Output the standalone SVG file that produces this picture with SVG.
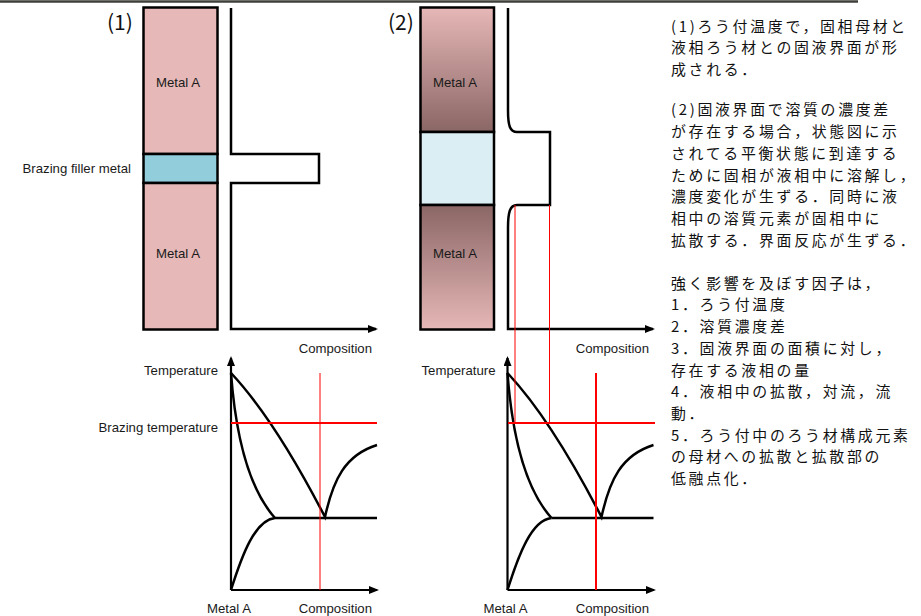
<svg xmlns="http://www.w3.org/2000/svg" width="921" height="616" viewBox="0 0 921 616">
<defs>
<marker id="arr" markerUnits="userSpaceOnUse" markerWidth="10" markerHeight="8" refX="8" refY="4" orient="auto"><path d="M0,0 L10,4 L0,8 z" fill="#000"/></marker>
<linearGradient id="gUp" x1="0" y1="0" x2="0" y2="1"><stop offset="0" stop-color="#e6b8b7"/><stop offset="1" stop-color="#8a6665"/></linearGradient>
<linearGradient id="gDn" x1="0" y1="0" x2="0" y2="1"><stop offset="0" stop-color="#8a6665"/><stop offset="1" stop-color="#e6b8b7"/></linearGradient>
</defs>
<style>
.lbl{font-family:"Liberation Sans",Arial,sans-serif;font-size:13.2px;fill:#1a1a1a}
.num{font-family:"Noto Sans CJK JP",sans-serif;font-size:21px;fill:#111}
.jp{font-family:"Noto Sans CJK JP",sans-serif;font-size:14.9px;letter-spacing:2.7px;fill:#111}
.blk{stroke:#000;stroke-width:2.5}
.ln{fill:none;stroke:#000;stroke-width:2.5}
.ax{fill:none;stroke:#000;stroke-width:2.2}
.crv{fill:none;stroke:#000;stroke-width:2.5}
.red{fill:none;stroke:#ff0000}
</style>
<rect width="921" height="616" fill="#fff"/>
<path d="M0,1.5 H858" stroke="#3f3f3a" stroke-width="2.5"/>

<g id="panel1">
<text class="num" x="107" y="29.5">(1)</text>
<g id="p1-metal-top"><rect x="143.5" y="7.5" width="74" height="146.5" fill="#e6b8b7" class="blk"/><text class="lbl" x="178" y="86.5" text-anchor="middle">Metal A</text></g>
<g id="p1-filler"><rect x="143.5" y="154" width="74" height="29" fill="#92cddc" class="blk"/><text class="lbl" x="131" y="173" text-anchor="end">Brazing filler metal</text></g>
<g id="p1-metal-bottom"><rect x="143.5" y="183" width="74" height="146.5" fill="#e6b8b7" class="blk"/><text class="lbl" x="178" y="258" text-anchor="middle">Metal A</text></g>
<text class="lbl" x="372" y="352.5" text-anchor="end">Composition</text>
</g>

<g id="panel2">
<text class="num" x="388" y="29.5">(2)</text>
<g id="p2-metal-top"><rect x="420.5" y="7.5" width="73.5" height="124.5" fill="url(#gUp)" class="blk"/><text class="lbl" x="455" y="86.5" text-anchor="middle">Metal A</text></g>
<g id="p2-liquid"><rect x="420.5" y="132" width="73.5" height="73" fill="#dbeef4" class="blk"/></g>
<g id="p2-metal-bottom"><rect x="420.5" y="205" width="73.5" height="124.5" fill="url(#gDn)" class="blk"/><text class="lbl" x="455" y="258" text-anchor="middle">Metal A</text></g>
<text class="lbl" x="649" y="352.5" text-anchor="end">Composition</text>
</g>

<g id="phase1">
<text class="lbl" x="218" y="375" text-anchor="end">Temperature</text>
<text class="lbl" x="218" y="431.5" text-anchor="end">Brazing temperature</text>
<text class="lbl" x="229" y="613" text-anchor="middle">Metal A</text>
<text class="lbl" x="372" y="613" text-anchor="end">Composition</text>
</g>

<g id="phase2">
<text class="lbl" x="495.5" y="375" text-anchor="end">Temperature</text>
<text class="lbl" x="505.5" y="613" text-anchor="middle">Metal A</text>
<text class="lbl" x="649" y="613" text-anchor="end">Composition</text>
</g>

<g id="connectors">
<path class="ln" d="M231,8 V154 H319 V183 H231 V329 H376" marker-end="url(#arr)"/>
<path class="ln" d="M508,8 V110 C508,126 510,132 517,132 H550 V205 H517 C510,205 508,212 508,228 V329 H653" marker-end="url(#arr)"/>
<path class="ax" d="M231,590 V358" marker-end="url(#arr)"/>
<path class="ax" d="M231,590 H377" marker-end="url(#arr)"/>
<path class="ax" d="M507.5,590 V358" marker-end="url(#arr)"/>
<path class="ax" d="M507.5,590 H654" marker-end="url(#arr)"/>
<g id="curves1">
<path class="crv" d="M231,373 Q275,420 325,517 C333,480 345,455 377,445"/>
<path class="crv" d="M231,373 C236,440 250,490 275,518"/>
<path class="crv" d="M231,590 C242,555 255,520 275,518"/>
<path class="crv" d="M275,518 H377" stroke-width="3"/>
</g>
<g id="curves2" transform="translate(276.5,0)">
<path class="crv" d="M231,373 Q275,420 325,517 C333,480 345,455 377,445"/>
<path class="crv" d="M231,373 C236,440 250,490 275,518"/>
<path class="crv" d="M231,590 C242,555 255,520 275,518"/>
<path class="crv" d="M275,518 H377" stroke-width="3"/>
</g>
<path class="red" d="M231,423 H377" stroke-width="2"/>
<path class="red" d="M320,373 V590" stroke-width="1"/>
<path class="red" d="M508,423 H655" stroke-width="2"/>
<path class="red" d="M596,373 V590" stroke-width="2"/>
<path class="red" d="M515,205 V423 M549.5,205 V423" stroke-width="1"/>
</g>

<g id="notes" class="jp">
<text x="671" y="31.7"><tspan x="671" y="31.7">(1)ろう付温度で，固相母材と</tspan><tspan x="671" y="53.4">液相ろう材との固液界面が形</tspan><tspan x="671" y="75.1">成される．</tspan></text>
<text x="671" y="115.2"><tspan x="671" y="115.2">(2)固液界面で溶質の濃度差</tspan><tspan x="671" y="137">が存在する場合，状態図に示</tspan><tspan x="671" y="158.8">されてる平衡状態に到達する</tspan><tspan x="671" y="180.6">ために固相が液相中に溶解し，</tspan><tspan x="671" y="202.4">濃度変化が生ずる．同時に液</tspan><tspan x="671" y="224.2">相中の溶質元素が固相中に</tspan><tspan x="671" y="246">拡散する．界面反応が生ずる．</tspan></text>
<text x="671" y="288.7"><tspan x="671" y="288.7">強く影響を及ぼす因子は，</tspan><tspan x="671" y="310.4">1．ろう付温度</tspan><tspan x="671" y="332.1">2．溶質濃度差</tspan><tspan x="671" y="353.8">3．固液界面の面積に対し，</tspan><tspan x="671" y="375.5">存在する液相の量</tspan><tspan x="671" y="397.2">4．液相中の拡散，対流，流</tspan><tspan x="671" y="418.9">動．</tspan><tspan x="671" y="440.6">5．ろう付中のろう材構成元素</tspan><tspan x="671" y="462.3">の母材への拡散と拡散部の</tspan><tspan x="671" y="484">低融点化．</tspan></text>
</g>
</svg>
